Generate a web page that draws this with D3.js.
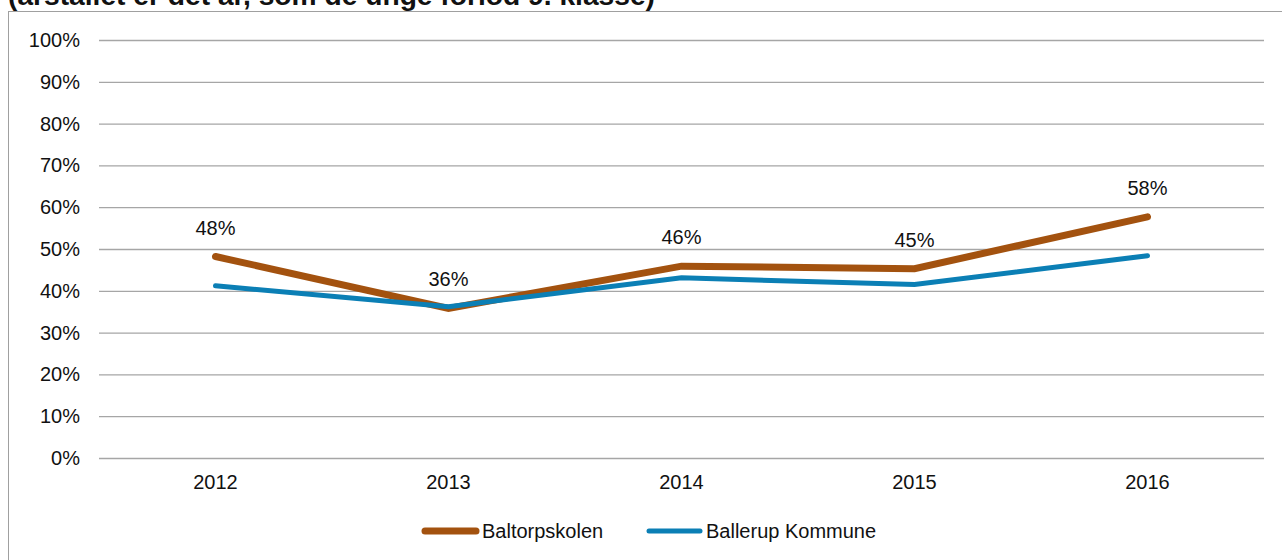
<!DOCTYPE html>
<html>
<head>
<meta charset="utf-8">
<script src="https://cdn.jsdelivr.net/npm/d3@7"></script>
<style>
  body { margin: 0; background: #fff; }
  svg { display: block; font-family: Arial, "Liberation Sans", sans-serif; }
</style>
</head>
<body>
<svg width="1282" height="560"></svg>
<script>
// chart data
var years = ["2012", "2013", "2014", "2015", "2016"];
var baltorpskolen = [0.482, 0.358, 0.459, 0.453, 0.577];
var ballerup = [0.412, 0.362, 0.431, 0.415, 0.484];
var yTicks = [0, 0.1, 0.2, 0.3, 0.4, 0.5, 0.6, 0.7, 0.8, 0.9, 1.0];
var seriesNames = ["Baltorpskolen", "Ballerup Kommune"];
var seriesColors = ["#a3520f", "#0b7fb5"];
var seriesWidths = [7, 5];

var svg = d3.select("svg"),
    plotLeft = 99, plotRight = 1264, plotTop = 40, plotBottom = 458;

// chart frame (cut at the right and bottom)
svg.append("rect")
    .attr("x", 8.5).attr("y", 11.5)
    .attr("width", 1290).attr("height", 600)
    .attr("fill", "none").attr("stroke", "#a0a0a0").attr("stroke-width", 1);

// title, mostly cut off above the picture
svg.append("text")
    .attr("x", 8).attr("y", 5)
    .attr("font-size", 27).attr("font-weight", "bold")
    .attr("fill", "#111")
    .attr("textLength", 647).attr("lengthAdjust", "spacingAndGlyphs")
    .text("(årstallet er det år, som de unge forlod 9. klasse)");

var x = d3.scaleBand().domain(years).range([plotLeft, plotRight]).padding(0);
var y = d3.scaleLinear().domain([0, 1]).range([plotBottom, plotTop]);

// y axis + gridlines
var yAxis = svg.append("g")
    .attr("transform", "translate(" + plotLeft + ",0)")
    .call(d3.axisLeft(y).tickValues(yTicks).tickSize(-(plotRight - plotLeft)).tickPadding(19)
        .tickFormat(d3.format(".0%")));
yAxis.select(".domain").remove();
yAxis.selectAll(".tick line").attr("stroke", "#a6a6a6").attr("stroke-width", 1.3);
yAxis.selectAll(".tick text")
    .attr("font-size", 20).attr("fill", "#111").attr("font-family", "Arial, 'Liberation Sans', sans-serif");

// x axis labels
var xAxis = svg.append("g")
    .attr("transform", "translate(0," + plotBottom + ")")
    .call(d3.axisBottom(x).tickSize(0).tickPadding(17));
xAxis.select(".domain").remove();
xAxis.selectAll(".tick text")
    .attr("font-size", 20).attr("fill", "#111").attr("font-family", "Arial, 'Liberation Sans', sans-serif");

var line = d3.line()
    .x(function(d, i) { return x(years[i]) + x.bandwidth() / 2; })
    .y(function(d) { return y(d); });

// brown first, blue sits on top of it at 2013
var allSeries = [baltorpskolen, ballerup];
allSeries.forEach(function(values, k) {
    svg.append("path")
        .datum(values)
        .attr("d", line)
        .attr("fill", "none")
        .attr("stroke", seriesColors[k])
        .attr("stroke-width", seriesWidths[k])
        .attr("stroke-linecap", "round")
        .attr("stroke-linejoin", "miter");
});

// data labels for Baltorpskolen
svg.append("g").selectAll("text")
    .data(baltorpskolen)
    .enter().append("text")
    .attr("x", function(d, i) { return x(years[i]) + x.bandwidth() / 2; })
    .attr("y", function(d) { return y(d) - 22; })
    .attr("text-anchor", "middle")
    .attr("font-size", 20).attr("fill", "#111")
    .text(function(d) { return Math.round(d * 100) + "%"; });

// legend
var legendX = [422, 646];
var legend = svg.append("g").selectAll("g")
    .data(seriesNames)
    .enter().append("g")
    .attr("transform", function(d, i) { return "translate(" + legendX[i] + ",531)"; });
legend.append("line")
    .attr("x1", 3).attr("x2", 54)
    .attr("stroke", function(d, i) { return seriesColors[i]; })
    .attr("stroke-width", function(d, i) { return seriesWidths[i]; })
    .attr("stroke-linecap", "round");
legend.append("text")
    .attr("x", 60).attr("y", 7)
    .attr("font-size", 20).attr("fill", "#111")
    .text(function(d) { return d; });
</script>
</body>
</html>
